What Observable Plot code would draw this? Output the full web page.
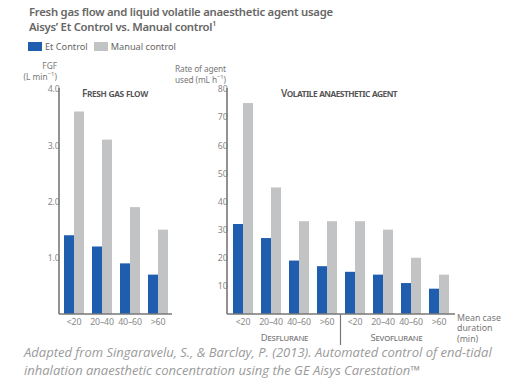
<!DOCTYPE html>
<html><head><meta charset="utf-8">
<script src="https://cdn.jsdelivr.net/npm/d3@7"></script>
<script src="https://cdn.jsdelivr.net/npm/@observablehq/plot@0.6"></script>
<style>
body{margin:0;background:#fff;font-family:"Noto Sans",sans-serif;}
#wrap{position:relative;width:530px;height:380px;overflow:hidden;background:#fff}
.abs{position:absolute;white-space:nowrap}
#wrap svg{position:absolute;left:0;top:0}
.sw{display:inline-block;width:14px;height:9px;vertical-align:-1px;margin-right:3px}
sup{line-height:0}
</style></head>
<body><div id="wrap">
<div class="abs" id="title" style="left:29px;top:4px;font-size:11.3px;font-weight:600;color:#666;line-height:15px;letter-spacing:-0.25px">Fresh gas flow and liquid volatile anaesthetic agent usage<br>Aisys’ Et Control vs. Manual control<sup style="font-size:7px">1</sup></div>
<div class="abs" id="legend" style="left:28px;top:41px;font-size:9.2px;color:#666;line-height:12px"></div>
<div class="abs" style="left:82px;top:87px;font-size:10px;font-weight:600;color:#555;font-variant:small-caps;letter-spacing:-0.4px;line-height:12px">Fresh gas flow</div>
<div class="abs" style="left:281px;top:87px;font-size:10px;font-weight:600;color:#555;font-variant:small-caps;letter-spacing:-0.5px;line-height:12px">Volatile anaesthetic agent</div>
<div class="abs" style="right:473px;top:61px;font-size:8.3px;color:#777;text-align:right;line-height:10.5px">FGF<br>(L min<sup style="font-size:6px">−1</sup>)</div>
<div class="abs" style="right:304px;top:64px;font-size:8.3px;color:#777;text-align:right;line-height:10.5px;letter-spacing:-0.1px">Rate of agent<br>used (mL h<sup style="font-size:6px">−1</sup>)</div>
<div class="abs" style="left:457px;top:312.5px;font-size:8.8px;color:#777;line-height:10.5px">Mean case<br>duration<br>(min)</div>
<div class="abs" style="left:24px;top:343px;font-family:'Open Sans',sans-serif;font-style:italic;font-size:13px;color:#9a9a9a;line-height:18px">Adapted from Singaravelu, S., &amp; Barclay, P. (2013). Automated control of end-tidal</div>
<div class="abs" style="left:24px;top:361px;font-family:'Open Sans',sans-serif;font-style:italic;font-size:13px;color:#9a9a9a;line-height:18px">inhalation anaesthetic concentration using the GE Aisys Carestation™</div>
</div>
<script>
// ---- data ----
const durations = ["<20", "20–40", "40–60", ">60"];
const seriesNames = ["Et Control", "Manual control"];
const seriesColors = ["#1f5daf", "#c2c3c5"];
const fgfEt = [1.4, 1.2, 0.9, 0.7];
const fgfManual = [3.6, 3.1, 1.9, 1.5];
const agents = ["Desflurane", "Sevoflurane"];
const desEt = [32, 27, 19, 17];
const desManual = [75, 45, 33, 33];
const sevoEt = [15, 14, 11, 9];
const sevoManual = [33, 30, 20, 14];

const fgfData = durations.flatMap((d, i) => [
  {duration: d, series: seriesNames[0], value: fgfEt[i]},
  {duration: d, series: seriesNames[1], value: fgfManual[i]}
]);
const agentValues = {Desflurane: [desEt, desManual], Sevoflurane: [sevoEt, sevoManual]};
const agentKeys = agents.flatMap(a => durations.map(d => a + "|" + d));
const agentData = agents.flatMap(a => durations.flatMap((d, i) => [
  {key: a + "|" + d, series: seriesNames[0], value: agentValues[a][0][i]},
  {key: a + "|" + d, series: seriesNames[1], value: agentValues[a][1][i]}
]));

const wrap = document.getElementById("wrap");
document.getElementById("legend").innerHTML = seriesNames.map((s, i) =>
  `<span class="sw" style="background:${seriesColors[i]}"></span><span style="margin-right:6px">${s}</span>`).join("");

const axisColor = "#777";
const common = {
  height: 380, marginTop: 89, marginBottom: 66,
  style: {background: "transparent", fontFamily: "'Noto Sans',sans-serif", fontSize: "8.8px", color: "#888", overflow: "visible"},
  x: {domain: seriesNames, axis: null, padding: 0.03},
  color: {domain: seriesNames, range: seriesColors}
};

const left = Plot.plot({
  ...common,
  width: 230, marginLeft: 59, marginRight: 58,
  fx: {domain: durations, paddingInner: 0.25, paddingOuter: 0.13, label: null, tickSize: 0, tickPadding: 4},
  y: {domain: [0, 4], ticks: 4, tickFormat: d => d === 0 ? "" : d.toFixed(1), tickSize: 0, tickPadding: 4, label: null},
  marks: [Plot.barY(fgfData, {fx: "duration", x: "series", y: "value", fill: "series"})]
});

const right = Plot.plot({
  ...common,
  width: 530, marginLeft: 227, marginRight: 75,
  fx: {domain: agentKeys, paddingInner: 0.24, paddingOuter: 0.1, label: null, tickSize: 0, tickPadding: 4, tickFormat: k => k.split("|")[1]},
  y: {domain: [0, 80], ticks: 8, tickFormat: d => d === 0 ? "" : d, tickSize: 0, tickPadding: 5, label: null},
  marks: [Plot.barY(agentData, {fx: "key", x: "series", y: "value", fill: "series"})]
});

wrap.insertBefore(right, wrap.firstChild);
wrap.insertBefore(left, wrap.firstChild);
d3.selectAll("#wrap svg text").style("letter-spacing", "-0.2px");

function axes(chart, yMax) {
  const svg = d3.select(chart);
  const y = chart.scale("y"), fx = chart.scale("fx");
  const y0 = y.apply(0), yTop = y.apply(yMax);
  const [x0, x1] = fx.range;
  svg.append("line").attr("x1", x0).attr("x2", x0).attr("y1", yTop - 1).attr("y2", y0)
    .attr("stroke", axisColor).attr("stroke-width", 1.6);
  svg.append("line").attr("x1", x0).attr("x2", x1).attr("y1", y0).attr("y2", y0)
    .attr("stroke", axisColor).attr("stroke-width", 1.6);
  return {svg, y0, fx};
}
axes(left, 4);
const r = axes(right, 80);
// agent group labels and separator
const bw = r.fx.bandwidth;
const groupCenter = a => {
  const xs = durations.map(d => r.fx.apply(a + "|" + d));
  return (d3.min(xs) + d3.max(xs) + bw) / 2;
};
agents.forEach(a => {
  r.svg.append("text").attr("x", groupCenter(a)).attr("y", r.y0 + 27)
    .attr("text-anchor", "middle").attr("fill", "#777").style("font-size", "9.5px")
    .style("letter-spacing", "-0.2px")
    .style("font-variant", "small-caps").text(a);
});
const sepX = (r.fx.apply(agents[0] + "|" + durations[3]) + bw + r.fx.apply(agents[1] + "|" + durations[0])) / 2;
r.svg.append("line").attr("x1", sepX).attr("x2", sepX).attr("y1", r.y0).attr("y2", r.y0 + 31)
  .attr("stroke", axisColor).attr("stroke-width", 1.2);
</script>
</body></html>
